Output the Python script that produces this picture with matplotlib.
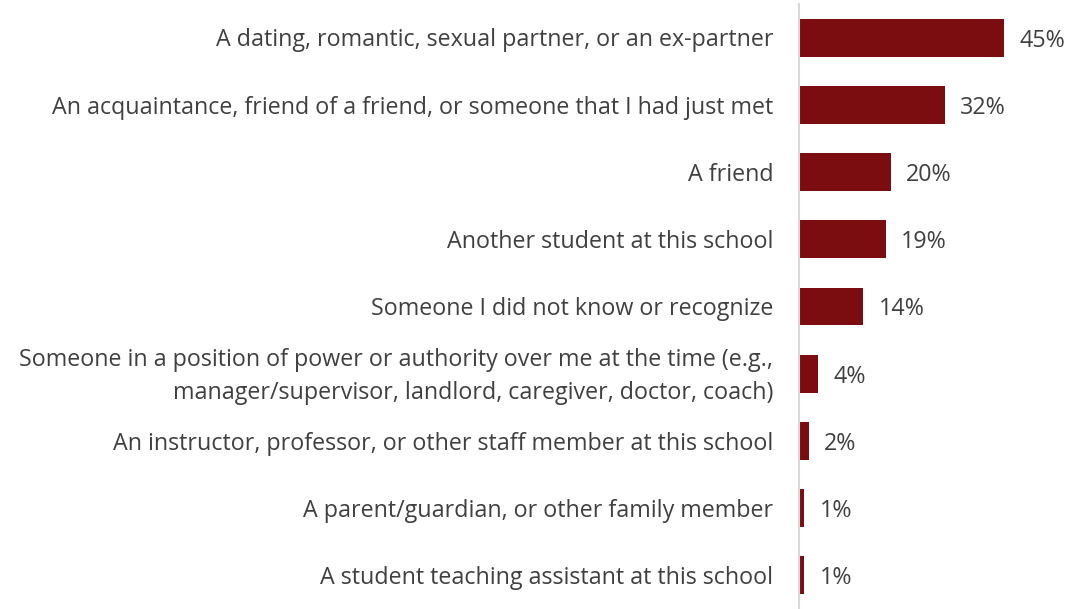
import matplotlib
matplotlib.use("Agg")
import matplotlib.pyplot as plt

categories = [
    "A dating, romantic, sexual partner, or an ex-partner",
    "An acquaintance, friend of a friend, or someone that I had just met",
    "A friend",
    "Another student at this school",
    "Someone I did not know or recognize",
    "Someone in a position of power or authority over me at the time (e.g.,\nmanager/supervisor, landlord, caregiver, doctor, coach)",
    "An instructor, professor, or other staff member at this school",
    "A parent/guardian, or other family member",
    "A student teaching assistant at this school",
]
values = [45, 32, 20, 19, 14, 4, 2, 1, 1]
value_labels = ["45%", "32%", "20%", "19%", "14%", "4%", "2%", "1%", "1%"]

BAR_COLOR = "#7B0C10"
TEXT_COLOR = "#404040"
FONT = ["Open Sans", "DejaVu Sans"]
FS = 16.75

plt.rcParams["font.family"] = FONT

fig = plt.figure(figsize=(10.68, 6.09), dpi=100)
ax = fig.add_axes([799 / 1068, 0.0, 1 - 799 / 1068, 1 - 4 / 609])

y = list(range(len(categories)))
ax.barh(y, values, height=0.565, color=BAR_COLOR, left=0.2)

ax.set_ylim(len(categories) - 0.5, -0.5)
ax.set_xlim(0, 59.3)

ax.set_yticks(y)
ax.set_yticklabels([])
ax.tick_params(axis="y", length=0)
ax.set_xticks([])

# category labels, right-aligned against the axis line
for yi, cat in zip(y, categories):
    ax.annotate(cat, xy=(0, yi), xytext=(-18.5, -2), textcoords="offset points",
                va="center", ha="right", multialignment="right",
                fontsize=FS, color=TEXT_COLOR, linespacing=1.54,
                annotation_clip=False)

for s in ["top", "right", "bottom"]:
    ax.spines[s].set_visible(False)
ax.spines["left"].set_color("#D9D9D9")
ax.spines["left"].set_linewidth(1.5)

for yi, v, lab in zip(y, values, value_labels):
    ax.annotate(lab, xy=(v + 0.2, yi), xytext=(11, 0), textcoords="offset points",
                va="center_baseline", ha="left", fontsize=FS, color=TEXT_COLOR)

fig.savefig("out.png", dpi=100)
